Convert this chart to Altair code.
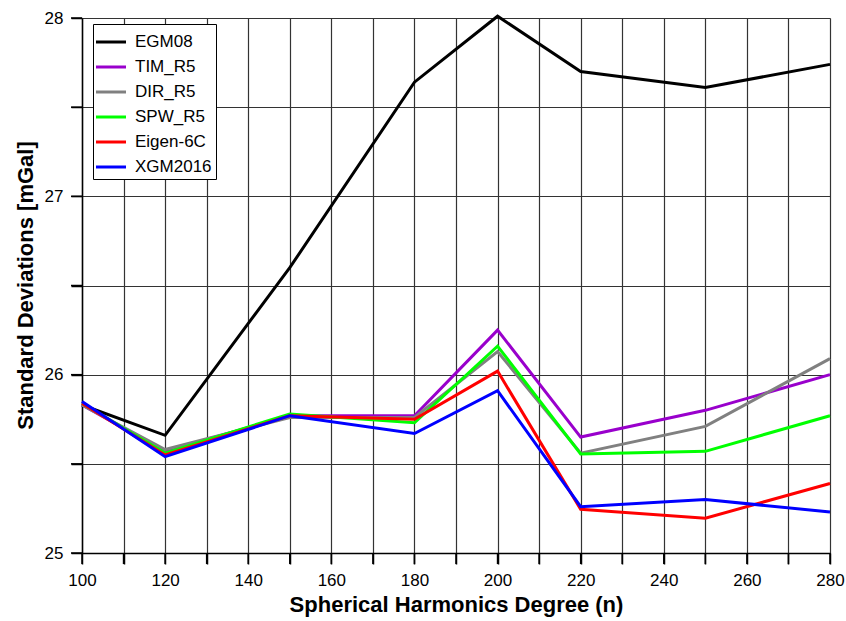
import altair as alt
import pandas as pd

degrees = [100, 120, 150, 180, 200, 220, 250, 280]
series_names = ["EGM08", "TIM_R5", "DIR_R5", "SPW_R5", "Eigen-6C", "XGM2016"]
egm08 = [25.83, 25.66, 26.60, 27.64, 28.01, 27.70, 27.61, 27.74]
tim_r5 = [25.83, 25.57, 25.77, 25.77, 26.25, 25.65, 25.80, 26.00]
dir_r5 = [25.83, 25.58, 25.76, 25.76, 26.13, 25.56, 25.71, 26.09]
spw_r5 = [25.84, 25.56, 25.78, 25.73, 26.16, 25.555, 25.57, 25.77]
eigen6c = [25.84, 25.55, 25.77, 25.75, 26.02, 25.245, 25.195, 25.39]
xgm2016 = [25.85, 25.54, 25.77, 25.67, 25.91, 25.26, 25.30, 25.23]
colors = ["#000000", "#9900cc", "#808080", "#00ff00", "#ff0000", "#0000ff"]

x_ticks = list(range(100, 281, 10))
y_ticks = [25, 25.5, 26, 26.5, 27, 27.5, 28]

all_values = [egm08, tim_r5, dir_r5, spw_r5, eigen6c, xgm2016]
rows = []
for i, (name, vals) in enumerate(zip(series_names, all_values)):
    for d, v in zip(degrees, vals):
        rows.append({"degree": d, "value": v, "model": name, "order": i})
df = pd.DataFrame(rows)

FONT = "Liberation Sans"
W, H = 748, 535

x_scale = alt.Scale(domain=[100, 280], nice=False, zero=False)
y_scale = alt.Scale(domain=[25, 28], nice=False, zero=False)

x_axis = alt.Axis(values=x_ticks,
                  labelExpr="datum.value % 20 === 0 ? format(datum.value, 'd') : ''",
                  title="Spherical Harmonics Degree (n)",
                  grid=True, gridColor="#333333", gridWidth=1.2, gridOpacity=1,
                  ticks=True, tickColor="#000000", tickSize=11, tickWidth=1.5,
                  tickOpacity=1,
                  domainColor="#000000", domainWidth=1.5,
                  labelFont=FONT, labelFontSize=17, labelColor="#000000",
                  labelPadding=8, labelFlush=False, labelOverlap=False,
                  titleFont=FONT, titleFontSize=22, titleFontWeight="bold",
                  titleColor="#000000", titleBaseline="alphabetic",
                  titleY=58)
y_axis = alt.Axis(values=y_ticks,
                  labelExpr="datum.value % 1 === 0 ? format(datum.value, 'd') : ''",
                  title="Standard Deviations [mGal]",
                  grid=True, gridColor="#333333", gridWidth=1.2, gridOpacity=1,
                  ticks=True, tickColor="#000000", tickSize=11, tickWidth=1.5,
                  tickOpacity=1,
                  domainColor="#000000", domainWidth=1.5,
                  labelFont=FONT, labelFontSize=17, labelColor="#000000",
                  labelPadding=8, labelFlush=False, labelOverlap=False,
                  titleFont=FONT, titleFontSize=22, titleFontWeight="bold",
                  titleColor="#000000", titleBaseline="alphabetic",
                  titleX=-50, titleY=267)

lines = alt.Chart(df).mark_line(strokeWidth=3, clip=False).encode(
    x=alt.X("degree:Q", scale=x_scale, axis=x_axis),
    y=alt.Y("value:Q", scale=y_scale, axis=y_axis),
    color=alt.Color("model:N",
                    scale=alt.Scale(domain=series_names, range=colors),
                    sort=series_names,
                    legend=alt.Legend(title=None, orient="none",
                                      legendX=11, legendY=6,
                                      symbolType="M-1.2,0H1.2", symbolSize=625,
                                      symbolStrokeWidth=3,
                                      labelFont=FONT, labelFontSize=17,
                                      labelColor="#000000", labelOffset=10,
                                      rowPadding=3, padding=4,
                                      strokeColor="#000000", fillColor="#ffffff",
                                      cornerRadius=0)),
    order=alt.Order("order:Q"),
    detail="model:N",
)

xt_df = pd.DataFrame({"degree": x_ticks})
yt_df = pd.DataFrame({"value": y_ticks})

x_tick_marks = alt.Chart(xt_df).mark_rule(color="#000000", strokeWidth=1.5, clip=False).encode(
    x=alt.X("degree:Q", scale=x_scale, axis=x_axis),
    y=alt.value(H),
    y2=alt.value(H + 11),
)
y_tick_marks = alt.Chart(yt_df).mark_rule(color="#000000", strokeWidth=1.5, clip=False).encode(
    y=alt.Y("value:Q", scale=y_scale, axis=y_axis),
    x=alt.value(-11),
    x2=alt.value(0),
)

chart = alt.layer(lines, x_tick_marks, y_tick_marks).properties(
    width=W, height=H,
    padding={"left": 82, "top": 18, "right": 16, "bottom": 68},
    autosize="none",
).configure_view(stroke="#000000", strokeWidth=1.5).configure(background="#ffffff")

chart.save("out.html", embed_options={"renderer": "svg", "actions": False})
